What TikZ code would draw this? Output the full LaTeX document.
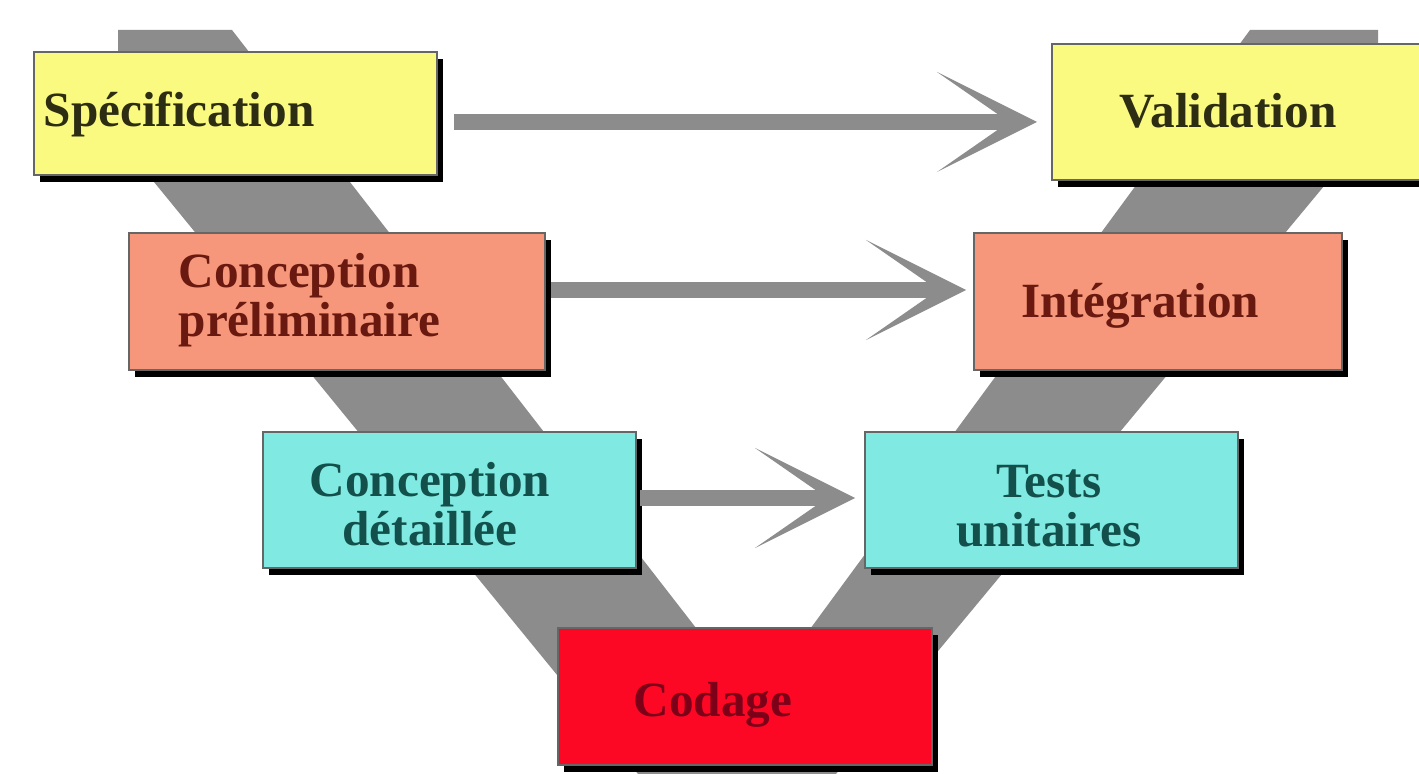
\documentclass[tikz,border=0pt]{standalone}
\usepackage{fontspec}
\setmainfont{Liberation Serif}
\usetikzlibrary{arrows.meta,shadows}

\definecolor{specyellow}{RGB}{250,250,128}
\definecolor{prelimsalmon}{RGB}{246,150,122}
\definecolor{detailcyan}{RGB}{128,234,226}
\definecolor{codered}{RGB}{252,8,36}
\definecolor{vgray}{RGB}{140,140,140}
\definecolor{spectext}{RGB}{45,45,20}
\definecolor{prelimtext}{RGB}{105,25,15}
\definecolor{detailtext}{RGB}{20,80,75}
\definecolor{codetext}{RGB}{125,0,25}

\begin{document}
\begin{tikzpicture}[x=0.01cm, y=-0.01cm,
    vbox/.style={draw=black!60, line width=0.5pt, inner sep=0pt,
      drop shadow={shadow xshift=0.06cm, shadow yshift=-0.07cm, fill=black, opacity=1}},
    vtext/.style={inner sep=0pt, font=\bfseries\fontsize{14}{14}\selectfont},
    varrow/.style={vgray, line width=0.16cm,
      -{Stealth[length=1cm, width=1cm, inset=0.72cm, line width=0pt]}}]
    \useasboundingbox (0,0) rectangle (1419,774);
    \fill[white] (0,0) rectangle (1419,774);
    % the V behind the boxes
    \fill[vgray] (118,30) -- (232,30) -- (755,704) -- (1250,30) -- (1378,30) -- (1378,121)
        -- (836,774) -- (638,774) -- (118,138) -- cycle;
    % boxes
    \node[vbox, fill=specyellow, minimum width=4.03cm, minimum height=1.23cm] (spec) at (235.5,113.5) {};
    \node[vbox, fill=specyellow, minimum width=3.8cm, minimum height=1.36cm] (valid) at (1242,112) {};
    \node[vbox, fill=prelimsalmon, minimum width=4.16cm, minimum height=1.37cm] (prelim) at (337,301.5) {};
    \node[vbox, fill=prelimsalmon, minimum width=3.68cm, minimum height=1.37cm] (integ) at (1158,301.5) {};
    \node[vbox, fill=detailcyan, minimum width=3.73cm, minimum height=1.36cm] (detail) at (449.5,500) {};
    \node[vbox, fill=detailcyan, minimum width=3.73cm, minimum height=1.36cm] (tests) at (1051.5,500) {};
    \node[vbox, fill=codered, minimum width=3.74cm, minimum height=1.37cm] (codage) at (745,696.5) {};
    % texts
    \node[vtext, text=spectext, anchor=base west] (spec-t) at (43,127) {Spécification};
    \node[vtext, text=spectext, anchor=base] (valid-t) at (1228,128) {Validation};
    \node[vtext, text=prelimtext, align=left, anchor=west] (prelim-t) at (178,300) {Conception\\préliminaire};
    \node[vtext, text=prelimtext, anchor=base] (integ-t) at (1140,318) {Intégration};
    \node[vtext, text=detailtext, align=center] (detail-t) at (430,504) {Conception\\détaillée};
    \node[vtext, text=detailtext, align=center] (tests-t) at (1049,506) {Tests\\unitaires};
    \node[vtext, text=codetext, anchor=base] (codage-t) at (713,717) {Codage};
    % arrows
    \coordinate (lvl1) at (0,122);
    \coordinate (lvl2) at (0,290);
    \coordinate (lvl3) at (0,498);
    \draw[varrow, shorten <=0.16cm, shorten >=0.14cm] (spec.east |- lvl1) -- (valid.west |- lvl1);
    \draw[varrow, shorten <=0.05cm, shorten >=0.07cm] (prelim.east |- lvl2) -- (integ.west |- lvl2);
    \draw[varrow, shorten <=0.03cm, shorten >=0.09cm] (detail.east |- lvl3) -- (tests.west |- lvl3);
\end{tikzpicture}
\end{document}
